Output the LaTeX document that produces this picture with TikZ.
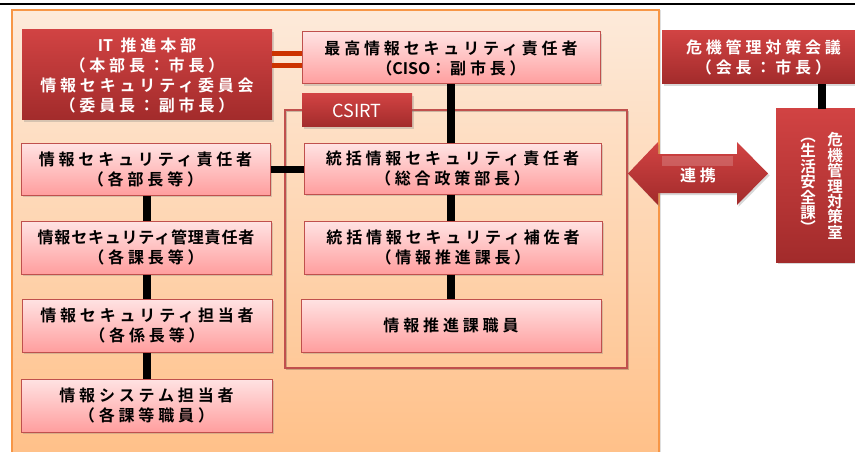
\documentclass[tikz,border=0pt]{standalone}
\usepackage{fontspec}
\setmainfont{Noto Sans CJK JP}[BoldFont={Noto Sans CJK JP Bold}]
\usetikzlibrary{shadows}
\definecolor{pinkT}{HTML}{FFE3E3}
\definecolor{pinkB}{HTML}{FF9E9E}
\definecolor{pinkD}{HTML}{C0504D}
\definecolor{redT}{HTML}{D14343}
\definecolor{redB}{HTML}{A22B2B}
\definecolor{orT}{HTML}{FDEADA}
\definecolor{orB}{HTML}{FFBF86}
\definecolor{orD}{HTML}{F79646}
\definecolor{dblc}{HTML}{CC3300}
\newcommand\jpb{\fontsize{16}{20}\selectfont\bfseries\addfontfeature{LetterSpace=24}}
\newcommand\jpv{\fontsize{15.5}{15.4}\selectfont\bfseries}
\newcommand\lat[1]{{\addfontfeature{LetterSpace=0}#1}}
\newcommand\tight[1]{{\addfontfeature{LetterSpace=5}#1}}
\tikzset{
  shd/.style={drop shadow={opacity=0.3, shadow xshift=1.5pt, shadow yshift=-2pt}},
  pinkbox/.style={draw=pinkD, line width=1pt, top color=pinkT, bottom color=pinkB,
    align=center, font=\jpb, text=black, inner sep=0pt, shd},
  redbox/.style={draw=none, top color=redT, bottom color=redB,
    align=center, font=\jpb, text=white, inner sep=0pt, shd},
  link/.style={line width=8pt, black},
  dbl/.style={line width=5pt, dblc},
  vcol/.style={align=center, font=\jpv, text=white, inner sep=0pt, text width=18pt}
}
\begin{document}
\begin{tikzpicture}[x=1pt,y=-1pt]
\useasboundingbox (0,0) rectangle (855,452);
\fill[white] (0,0) rectangle (855,452);
\draw[line width=2pt] (0,4) -- (855,4);
% orange background
\path[top color=orT, bottom color=orB, drop shadow={opacity=0.25, shadow xshift=2pt, shadow yshift=0pt}] (12,10) rectangle (659,470);
\draw[orD, line width=1.5pt] (12,470) -- (12,10) -- (659,10) -- (659,470);
% CSIRT frame
\node[draw=pinkD, line width=1.2pt, minimum width=342pt, minimum height=258pt, inner sep=0pt,
  drop shadow={opacity=0.2, shadow xshift=1.5pt, shadow yshift=-1.5pt, fill=none, draw=black}] (frame) at (456,239) {};
% left column
\node[redbox, minimum width=250pt, minimum height=90pt] (itb) at (147,75)
  {\lat{IT} 推進本部\\（本部長：市長）\\情報セキュリティ委員会\\（委員長：副市長）};
\node[pinkbox, minimum width=249pt, minimum height=52pt] (sec1) at (145.5,169)
  {情報セキュリティ責任者\\（各部長等）};
\node[pinkbox, minimum width=250pt, minimum height=53pt] (sec2) at (146,247.5)
  {\tight{情報セキュリティ管理責任者}\\（各課長等）};
\node[pinkbox, minimum width=250pt, minimum height=53pt] (sec3) at (147,325.5)
  {情報セキュリティ担当者\\（各係長等）};
\node[pinkbox, minimum width=251pt, minimum height=53pt] (sec4) at (146.5,405.5)
  {情報システム担当者\\（各課等職員）};
% middle column
\node[pinkbox, minimum width=298pt, minimum height=52pt] (ciso) at (451,58)
  {最高情報セキュリティ責任者\\（\lat{CISO}：副市長）};
\node[redbox, minimum width=110pt, minimum height=33pt, font=\fontsize{18}{20}\selectfont] (csirt) at (357,110.5) {CSIRT};
\node[pinkbox, minimum width=297pt, minimum height=51pt] (tok) at (452.5,168.5)
  {統括情報セキュリティ責任者\\（総合政策部長）};
\node[pinkbox, minimum width=298pt, minimum height=53pt] (hosa) at (453,247.5)
  {統括情報セキュリティ補佐者\\（情報推進課長）};
\node[pinkbox, minimum width=300pt, minimum height=53pt] (shok) at (451,325.5)
  {情報推進課職員};
% right side
\node[redbox, minimum width=203pt, minimum height=53pt] (kaigi) at (763.5,57.5)
  {危機管理対策会議\\（会長：市長）};
\node[redbox, minimum width=92pt, minimum height=153pt] (shitsu) at (822,185.5) {};
\node[vcol] (shitsuR) at (835,186) {危\\機\\管\\理\\対\\策\\室};
\node[vcol] (shitsuL) at (808,186) {︵\\生\\活\\安\\全\\課\\︶};
% double arrow
\path[top color=redT, bottom color=redB, shd]
  (628,173.5) -- (658,142) -- (658,154) -- (737,154) -- (737,142) -- (768,173.5)
  -- (737,205) -- (737,193) -- (658,193) -- (658,205) -- cycle;
\path[fill=white, opacity=0.18] (662,156) -- (733,156) -- (733,166) -- (662,166) -- cycle;
\node[font=\jpb, text=white, inner sep=0pt] (renkei) at (698,175) {連携};
% connectors
\draw[dbl] (itb.east |- 0,53.5) -- (ciso.west |- 0,53.5);
\draw[dbl] (itb.east |- 0,65.5) -- (ciso.west |- 0,65.5);
\draw[link] (ciso.south) -- (ciso.south |- tok.north);
\draw[link] (tok.south -| ciso.south) -- (ciso.south |- hosa.north);
\draw[link] (hosa.south -| ciso.south) -- (ciso.south |- shok.north);
\draw[link] (sec1.south -| itb.south) -- (itb.south |- sec2.north);
\draw[link] (sec2.south -| itb.south) -- (itb.south |- sec3.north);
\draw[link] (sec3.south -| itb.south) -- (itb.south |- sec4.north);
\draw[line width=7pt] (sec1.east) -- (sec1.east -| tok.west);
\draw[link] (shitsu.north) -- (shitsu.north |- kaigi.south);
\end{tikzpicture}
\end{document}
